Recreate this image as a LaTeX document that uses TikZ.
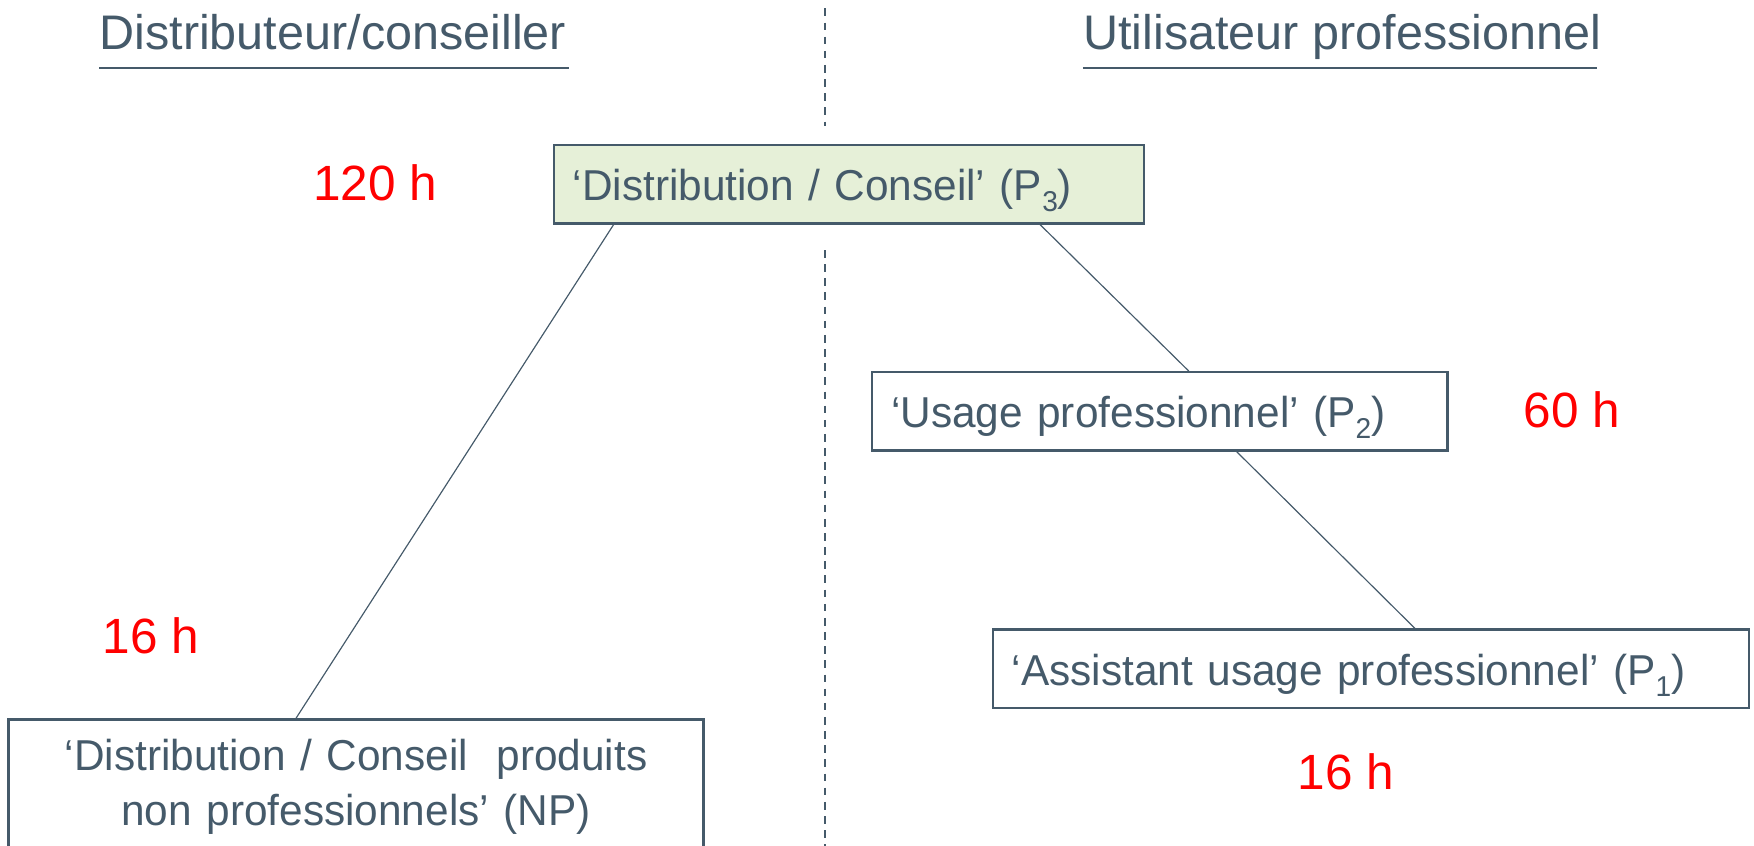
\documentclass[tikz,border=0pt]{standalone}
\usepackage{fontspec}
\setmainfont{Liberation Sans}
\newfontfamily\boxfont[FakeStretch=0.98]{Liberation Sans}
\usetikzlibrary{calc}
\definecolor{slate}{HTML}{455A6A}
\definecolor{paleGreen}{HTML}{E6F0D8}
\definecolor{hoursRed}{HTML}{FF0000}
\newcommand{\lowidx}[1]{\raisebox{-0.25em}{\fontsize{14.6}{15}\selectfont #1}}

\begin{document}
\begin{tikzpicture}[x=0.02cm,y=-0.02cm,
  title/.style={font=\fontsize{24.7}{30}\selectfont,text=slate,inner sep=0pt,anchor=base},
  hours/.style={font=\fontsize{25.2}{30}\selectfont,text=hoursRed,inner sep=0pt,anchor=base},
  boxbase/.style={rectangle,draw=slate,line width=1.2pt,text=slate,font=\boxfont\fontsize{22}{27.8}\selectfont},
  level/.style={boxbase,align=left,inner xsep=0.34cm,minimum height=1.40cm,text height=20.9pt,text depth=4pt,anchor=north west},
  link/.style={draw=slate,line width=0.6pt},
  rule/.style={draw=slate,line width=1pt},
  divider/.style={draw=slate,line width=1pt,dash pattern=on 3.9pt off 3.3pt}]

  \useasboundingbox (0,0) rectangle (1568,756);
  \clip (0,0) rectangle (1568,756);

  % column headings
  \node[title] (hl) at (297.5,44.7) {Distributeur/conseiller};
  \node[title] (hr) at (1200,44.7) {Utilisateur professionnel};
  \draw[rule] ($(hl.base west)+(0,16)$) -- ($(hl.base east)+(2,16)$);
  \draw[rule] ($(hr.base west)+(0,16)$) -- ($(hr.base east)+(-4,16)$);

  % separation between the two columns
  \coordinate (top) at (737.5,7.5);
  \coordinate (gapA) at (737.5,113);
  \coordinate (gapB) at (737.5,223.5);
  \coordinate (bottom) at (737.5,760);
  \draw[divider] (top) -- (gapA) (gapB) -- (bottom);

  % levels
  \node[level,fill=paleGreen,text width=9.87cm] (p3) at (494,128.7) {‘Distribution / Conseil’ (P\lowidx{3})};
  \node[level,text width=9.61cm] (p2) at (778.6,331.7) {‘Usage professionnel’ (P\lowidx{2})};
  \node[level,text width=12.84cm] (p1) at (886.5,561.7) {‘Assistant usage professionnel’ (P\lowidx{1})};
  \node[boxbase,align=center,anchor=north,text width=11.75cm,inner xsep=0.34cm,inner ysep=0.36cm] (np) at (318.3,642)
    {‘Distribution / Conseil~ produits\\non professionnels’ (NP)};

  % hours
  \node[hours] (h3) at (335.5,178.8) {120 h};
  \node[hours] (h2) at (1405,382.6) {60 h};
  \node[hours] (hnp) at (135,583.8) {16 h};
  \node[hours] (h1) at (1203,706) {16 h};

  % links
  \draw[link] ($(p3.south west)!0.103!(p3.south east)$) -- ($(np.north west)!0.414!(np.north east)$);
  \draw[link] ($(p3.south west)!0.823!(p3.south east)$) -- ($(p2.north west)!0.550!(p2.north east)$);
  \draw[link] ($(p2.south west)!0.633!(p2.south east)$) -- ($(p1.north west)!0.558!(p1.north east)$);

\end{tikzpicture}
\end{document}
